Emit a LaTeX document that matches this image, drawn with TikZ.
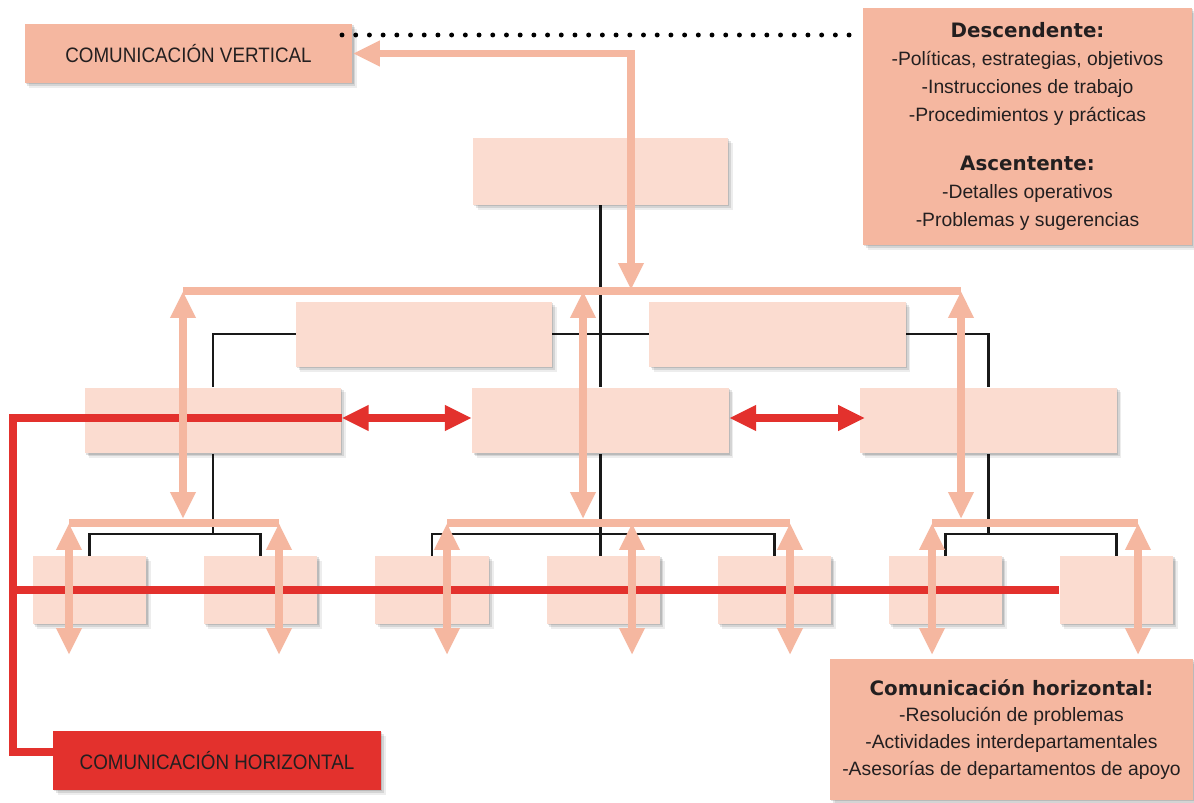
\documentclass[tikz,border=0pt]{standalone}
\usepackage{fontspec}
\setmainfont{Liberation Sans}
\newfontfamily\headfont{DejaVu Sans}
\newfontfamily\labelfont{Liberation Sans}[FakeStretch=0.9]
\usetikzlibrary{arrows.meta,shadows,backgrounds}

\definecolor{boxpink}{HTML}{FBDCD0}
\definecolor{salmon}{HTML}{F5B7A0}
\definecolor{redline}{HTML}{E3312D}
\definecolor{inkgray}{HTML}{231F20}

\newcommand{\hd}[1]{{\headfont\bfseries\fontsize{11.3}{15.9}\selectfont #1}}

\begin{document}
\begin{tikzpicture}[x=0.02cm, y=0.02cm,
    >={Triangle[length=0.54cm,width=0.48cm]},
    softshadow/.style={
        general shadow={fill=black, opacity=0.07, shadow xshift=2.6pt, shadow yshift=-2.6pt},
        general shadow={fill=black, opacity=0.10, shadow xshift=1.6pt, shadow yshift=-1.6pt},
        general shadow={fill=black, opacity=0.12, shadow xshift=0.7pt, shadow yshift=-0.8pt}},
    orgbox/.style={rectangle, fill=boxpink, inner sep=0pt, softshadow},
    wide/.style={orgbox, minimum width=5.13cm, minimum height=1.32cm},
    leaf/.style={orgbox, minimum width=2.28cm, minimum height=1.36cm},
    notebox/.style={rectangle, fill=salmon, inner sep=0pt, softshadow, text=inkgray, align=center},
    tagbox/.style={rectangle, inner sep=0pt, softshadow, text=inkgray, font=\labelfont\fontsize{11.9}{14}\selectfont, minimum width=6.56cm, minimum height=1.18cm},
    tree/.style={line width=1.7pt, color=black!90},
    vline/.style={line width=4.5pt, color=salmon},
    hline/.style={line width=4.5pt, color=redline},
    dotrow/.style={line width=2.8pt, line cap=round, dash pattern=on 0pt off 7.8pt}]

\useasboundingbox (0,0) rectangle (1194,-803);

% organisation chart
\node[wide, minimum width=5.10cm, minimum height=1.34cm] (top) at (600.5,-171.5) {};
\node[wide, minimum height=1.30cm] (m1) at (424,-334.5) {};
\node[wide, minimum height=1.30cm] (m2) at (777.5,-334.5) {};
\node[wide] (d1) at (213,-420.5) {};
\node[wide] (d2) at (600.5,-420.5) {};
\node[wide] (d3) at (988.5,-420.5) {};
\foreach \x [count=\i] in {89.5,260.5,432,603.5,774.5,945.5,1116.5}
    \node[leaf] (u\i) at (\x,-590) {};

% labels and notes
\node[tagbox, fill=salmon] (vert) at (188.5,-53.5) {COMUNICACIÓN VERTICAL};
\node[tagbox, fill=redline] (horiz) at (217,-760.5) {COMUNICACIÓN HORIZONTAL};
\node[notebox, minimum width=6.58cm, minimum height=4.74cm,
      font=\fontsize{11}{15.9}\selectfont] (desc) at (1027.5,-126.5)
    {\hd{Descendente:}\\-Políticas, estrategias, objetivos\\-Instrucciones de trabajo\\-Procedimientos y prácticas\\[12pt]
     \hd{Ascentente:}\\-Detalles operativos\\-Problemas y sugerencias};
\node[notebox, minimum width=7.26cm, minimum height=2.82cm,
      font=\fontsize{11}{15.3}\selectfont] (hnote) at (1011.5,-729.5)
    {\hd{Comunicación horizontal:}\\-Resolución de problemas\\-Actividades interdepartamentales\\-Asesorías de departamentos de apoyo};

% tree lines behind the boxes
\begin{pgfonlayer}{background}
    \fill[white] (0,0) rectangle (1194,-803);
    \coordinate (k0) at (600,-334);
    \coordinate (k1) at (213,-534);
    \coordinate (k2) at (601,-534);
    \coordinate (k3) at (988.5,-534);
    \draw[tree] (top.south) -- (d2.north);
    \draw[tree] (d1.north) |- (k0) -| (d3.north);
    \draw[tree] (d1.south) -- (k1);
    \draw[tree] (u1.north) |- (k1) -| (u2.north);
    \draw[tree] (d2.south) -- (d2.south |- u4.north);
    \draw[tree] (u3.north) |- (k2) -| (u5.north);
    \draw[tree] (d3.south) -- (k3);
    \draw[tree] (u6.north) |- (k3) -| (u7.north);
\end{pgfonlayer}

% horizontal communication
\coordinate (rc) at (13,-418);
\draw[hline] ([yshift=5pt]horiz.west) -| (rc) -- (d1.east |- rc);
\draw[hline,<->] (d1.east |- rc) -- (d2.west |- rc);
\draw[hline,<->] (d2.east |- rc) -- ([xshift=3pt]d3.west |- rc);
\draw[hline] (rc |- u7.west) -- (u7.west);

% vertical communication
\coordinate (vtop) at (631,-290);
\draw[vline,<->] (vert.east) -| (vtop);
\coordinate (va) at (183,-291);
\coordinate (vb) at (961,-291);
\draw[vline] (va) -- (vb);
\foreach \x in {183,583,961}
    \draw[vline,<->] (\x,-291) -- (\x,-519);
\coordinate (la) at (69,-523);
\coordinate (lb) at (279,-523);
\coordinate (ma) at (447,-523);
\coordinate (mb) at (790,-523);
\coordinate (ra) at (932,-523);
\coordinate (rb) at (1138,-523);
\draw[vline] (la) -- (lb);
\draw[vline] (ma) -- (mb);
\draw[vline] (ra) -- (rb);
\foreach \x in {69,279,447,632,790,932,1138}
    \draw[vline,<->] (\x,-523) -- (\x,-655);

\coordinate (dots) at (342,-35);
\draw[dotrow] (dots) -- (dots -| desc.west);

\end{tikzpicture}
\end{document}
